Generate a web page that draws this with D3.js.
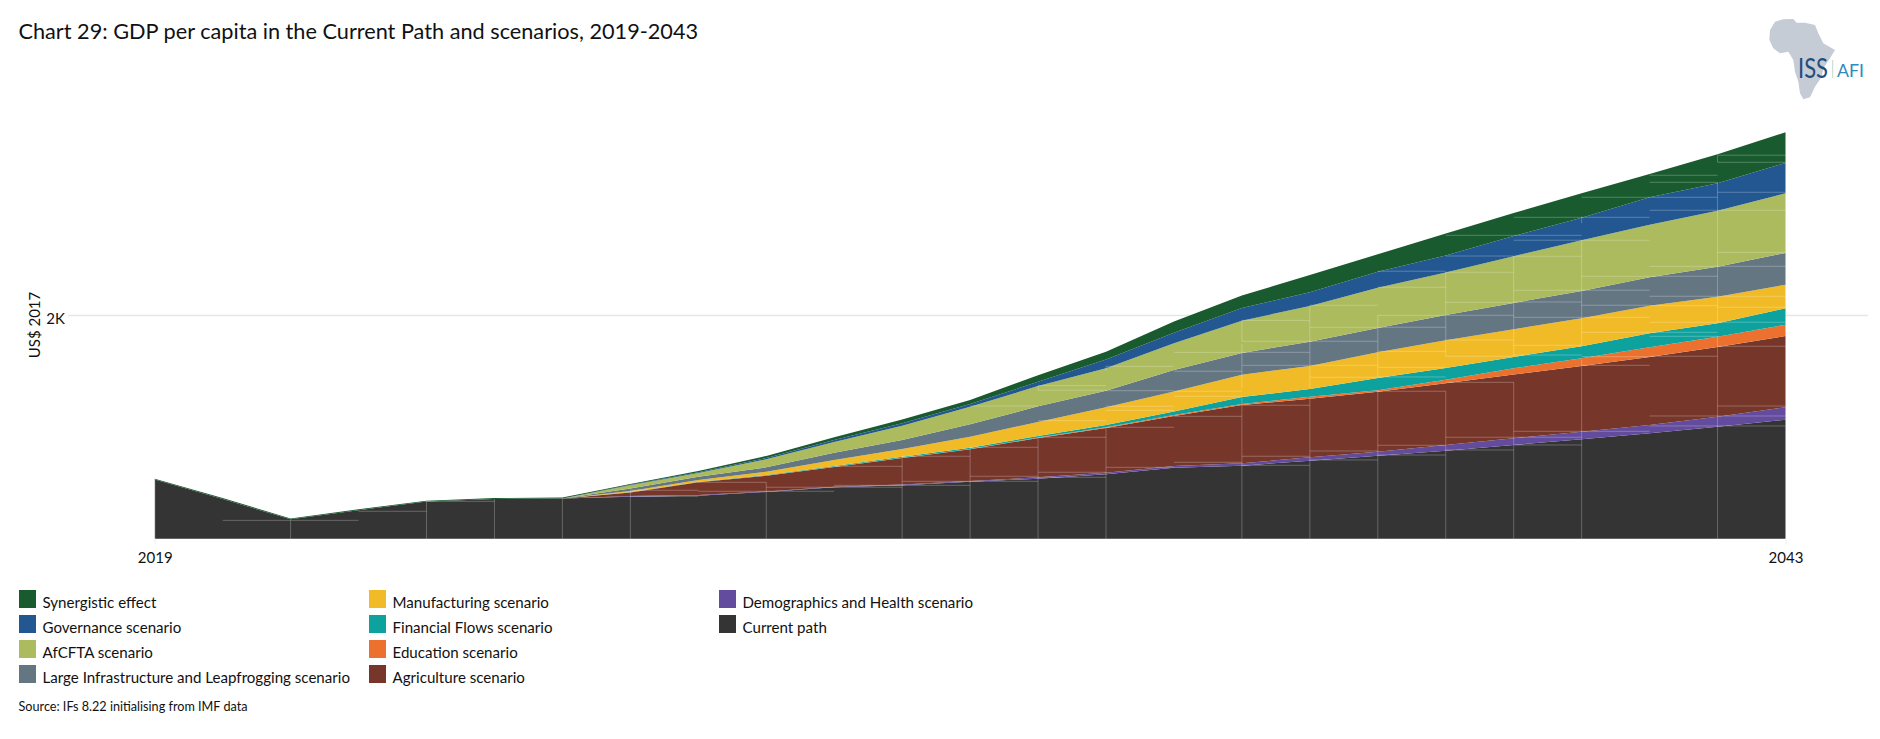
<!DOCTYPE html>
<html>
<head>
<meta charset="utf-8">
<script src="https://cdn.jsdelivr.net/npm/d3@7"></script>
<style>
  html, body { margin: 0; padding: 0; background: #fff; }
  text { font-family: Lato, "Open Sans", sans-serif; fill: #111; }
</style>
</head>
<body>
<div id="viz"></div>
<script>
let years = d3.range(2019, 2044)

// each scenario is the increment on top of the one below it, US$ 2017
let currentPath = [529, 355, 173, 255, 332, 356, 360, 375, 385, 418, 460, 477, 510, 536, 576, 635, 653, 697, 742, 787, 838, 889, 942, 1001, 1064]
let demographics = [0, 0, 0, 0, 0, 0, 0, 6, 5, 4, 4, 7, 6, 13, 14, 15, 21, 30, 36, 51, 60, 68, 74, 89, 111]
let agriculture = [0, 0, 0, 0, 0, 0, 0, 32, 114, 141, 177, 237, 283, 351, 400, 447, 521, 524, 536, 552, 569, 587, 608, 623, 637]
let education = [0, 0, 0, 0, 0, 0, 0, 2, 2, 2, 3, 3, 3, 4, 6, 9, 9, 18, 13, 30, 57, 69, 87, 92, 101]
let financialFlows = [0, 0, 0, 0, 0, 0, 0, 2, 2, 4, 6, 9, 12, 13, 21, 30, 63, 69, 110, 105, 101, 107, 125, 120, 147]
let manufacturing = [0, 0, 0, 0, 0, 0, 0, 9, 16, 30, 54, 69, 98, 127, 158, 179, 199, 206, 230, 250, 248, 250, 247, 238, 211]
let infrastructure = [0, 0, 0, 0, 0, 0, 0, 22, 30, 39, 65, 80, 111, 139, 148, 194, 194, 217, 217, 224, 235, 244, 254, 268, 283]
let afcfta = [0, 0, 0, 0, 0, 0, 0, 29, 33, 72, 96, 128, 157, 181, 200, 239, 289, 319, 360, 381, 418, 453, 470, 501, 534]
let governance = [0, 0, 0, 0, 0, 0, 0, 5, 6, 12, 18, 21, 24, 38, 80, 92, 114, 122, 143, 152, 179, 202, 245, 245, 271]
let synergistic = [8, 8, 8, 8, 8, 8, 8, 6, 12, 18, 24, 34, 36, 60, 68, 101, 110, 155, 156, 197, 206, 218, 208, 259, 274]

let seriesNames = ['Current path', 'Demographics and Health scenario', 'Agriculture scenario', 'Education scenario',
  'Financial Flows scenario', 'Manufacturing scenario', 'Large Infrastructure and Leapfrogging scenario',
  'AfCFTA scenario', 'Governance scenario', 'Synergistic effect']
let seriesValues = [currentPath, demographics, agriculture, education, financialFlows, manufacturing, infrastructure,
  afcfta, governance, synergistic]
let seriesColors = ['#343434', '#634b9e', '#76362a', '#ed712e', '#0da29e', '#f1bb27', '#657683', '#abbb5d', '#225792', '#195a2f']

// legend reads column by column, top of the stack first
let legendOrder = ['Synergistic effect', 'Governance scenario', 'AfCFTA scenario', 'Large Infrastructure and Leapfrogging scenario',
  'Manufacturing scenario', 'Financial Flows scenario', 'Education scenario', 'Agriculture scenario',
  'Demographics and Health scenario', 'Current path']

// faint level lines over the areas: first year of the span, then the levels
let levelStarts = [2020, 2022, 2023, 2026, 2027, 2028, 2029, 2030, 2031, 2032, 2033, 2034, 2035, 2036, 2037, 2038, 2039, 2040, 2041, 2042]
let levelValues = [
  [164],
  [245],
  [334],
  [379, 433],
  [424, 504],
  [424, 460],
  [460, 477, 647],
  [477, 513, 737],
  [513, 558, 817, 1186],
  [549, 594, 907, 1055, 1327, 1368],
  [638, 996, 1148, 1184, 1323, 1541],
  [683, 1094, 1273, 1318, 1497, 1666],
  [656, 737, 1193, 1550, 1666, 1765, 1952],
  [704, 784, 1443, 1550, 1765, 1890, 2087],
  [748, 835, 1318, 1446, 1532, 1675, 1890, 1997, 2248, 2391],
  [793, 907, 1398, 1631, 1776, 1997, 2113, 2382, 2527, 2712],
  [838, 907, 960, 1642, 1729, 1979, 2116, 2221, 2525, 2668, 2712, 2873],
  [960, 1550, 1627, 1845, 1979, 2087, 2221, 2346, 2668, 2873, 3052],
  [1008, 1097, 1631, 1809, 1845, 1935, 2083, 2167, 2346, 2435, 2936, 3052, 3186, 3249],
  [1008, 1097, 1186, 1720, 1935, 2069, 2167, 2435, 2560, 2936, 3097, 3365, 3428]
]
let levelEnds = { 2020: 2022 }

// faint uprights: year, from, to
let uprights = [
  [2021, 0, 164], [2023, 0, 334], [2024, 0, 355], [2025, 0, 360], [2026, 0, 433], [2028, 0, 504],
  [2030, 0, 737], [2031, 0, 817], [2032, 0, 907], [2032, 1327, 1368], [2033, 0, 996], [2033, 1497, 1541],
  [2035, 0, 1273], [2035, 1345, 1741], [2035, 1765, 1952], [2036, 0, 1250], [2036, 1345, 2087],
  [2037, 0, 1330], [2037, 1448, 1997], [2038, 0, 1318], [2038, 1631, 2382], [2039, 0, 1398], [2039, 1631, 2525],
  [2040, 0, 1600], [2040, 1720, 2668], [2040, 2820, 2880], [2042, 0, 1809], [2042, 1935, 3186], [2042, 3365, 3428]
]

let yTicks = [2000]
let xTicks = [2019, 2043]

let svg = d3.select('#viz')
  .append('svg')
  .attr('width', 1880)
  .attr('height', 739)
  .style('display', 'block')

let x = d3.scaleLinear().domain([2019, 2043]).range([154.7, 1785.5])
let y = d3.scaleLinear().domain([0, 3700]).range([538.7, 124.8])

svg.append('text')
  .attr('x', 18.5)
  .attr('y', 39)
  .style('font-size', '21.7px')
  .text('Chart 29: GDP per capita in the Current Path and scenarios, 2019-2043')

// y axis, the gridline runs past the plot on both sides
let yAxis = svg.append('g')
  .attr('transform', 'translate(68,0)')
  .call(d3.axisLeft(y).tickValues(yTicks).tickSize(0).tickPadding(3).tickFormat(d => (d / 1000) + 'K'))
yAxis.select('.domain').remove()
yAxis.selectAll('text').style('font-size', '15px').attr('dy', '1em').attr('y', -6)
yAxis.selectAll('.tick').append('line')
  .attr('x1', 0)
  .attr('x2', 1800)
  .attr('stroke', '#e6e6e6')
  .attr('stroke-width', 1.5)

svg.append('text')
  .attr('transform', 'translate(40,325) rotate(-90)')
  .attr('text-anchor', 'middle')
  .style('font-size', '15px')
  .text('US$ 2017')

// stacked areas
let table = years.map((year, i) => {
  let row = { year: year }
  seriesNames.forEach((name, s) => { row[name] = seriesValues[s][i] })
  return row
})
let stacked = d3.stack().keys(seriesNames)(table)
let area = d3.area()
  .x(d => x(d.data.year))
  .y0(d => y(d[0]))
  .y1(d => y(d[1]))

svg.append('g')
  .selectAll('path')
  .data(stacked)
  .join('path')
  .attr('d', area)
  .attr('fill', (d, i) => seriesColors[i])

// level lines and uprights
let overlay = svg.append('g')
  .attr('stroke', '#fff')
  .attr('stroke-opacity', 0.25)
  .attr('stroke-width', 1)
levelStarts.forEach((start, i) => {
  let end = levelEnds[start] || start + 1
  levelValues[i].forEach((v) => {
    overlay.append('line')
      .attr('x1', x(start))
      .attr('x2', x(end))
      .attr('y1', y(v))
      .attr('y2', y(v))
  })
})
uprights.forEach((u) => {
  overlay.append('line')
    .attr('x1', x(u[0]))
    .attr('x2', x(u[0]))
    .attr('y1', y(u[1]))
    .attr('y2', y(u[2]))
})
svg.append('line')
  .attr('x1', x(2019))
  .attr('x2', x(2019))
  .attr('y1', y(0))
  .attr('y2', y(currentPath[0]))
  .attr('stroke', '#fff')
  .attr('stroke-opacity', 0.5)

// x axis
let xAxis = svg.append('g')
  .attr('transform', 'translate(0,' + y(0) + ')')
  .call(d3.axisBottom(x).tickValues(xTicks).tickSize(6).tickPadding(8).tickFormat(d3.format('d')))
xAxis.select('.domain').remove()
xAxis.selectAll('line').attr('stroke', '#eeeeee')
xAxis.selectAll('text').style('font-size', '15px')

// legend
let legendColumns = [19, 369, 719]
let legendRows = [590, 615, 640, 665]
legendOrder.forEach((name, i) => {
  let col = Math.floor(i / 4)
  let row = i % 4
  let g = svg.append('g')
    .attr('transform', 'translate(' + legendColumns[col] + ',' + legendRows[row] + ')')
  g.append('rect')
    .attr('width', 17)
    .attr('height', 18)
    .attr('fill', seriesColors[seriesNames.indexOf(name)])
  g.append('text')
    .attr('x', 23.5)
    .attr('y', 18)
    .style('font-size', '15.1px')
    .text(name)
})

svg.append('text')
  .attr('x', 18.5)
  .attr('y', 711)
  .style('font-size', '12.65px')
  .text('Source: IFs 8.22 initialising from IMF data')

// ISS AFI logo
let africa = [[30, 60], [45, 35], [70, 28], [100, 27], [110, 38], [135, 38], [165, 45], [175, 70], [190, 100], [225, 120],
  [210, 145], [190, 175], [185, 200], [165, 230], [150, 262], [130, 268], [120, 250], [115, 215], [105, 185], [100, 150],
  [85, 125], [60, 130], [40, 115], [28, 90]]
svg.append('polygon')
  .attr('points', africa.map(p => (1760 + p[0] / 3) + ',' + (10 + p[1] / 3)).join(' '))
  .attr('fill', '#c5ccd6')
svg.append('text')
  .attr('x', 1798)
  .attr('y', 78)
  .attr('textLength', 30)
  .attr('lengthAdjust', 'spacingAndGlyphs')
  .style('font-size', '26px')
  .style('fill', '#1f4e7d')
  .text('ISS')
svg.append('line')
  .attr('x1', 1832.7)
  .attr('x2', 1832.7)
  .attr('y1', 60)
  .attr('y2', 78)
  .attr('stroke', '#c5d8c5')
svg.append('text')
  .attr('x', 1837)
  .attr('y', 76.5)
  .attr('textLength', 27)
  .attr('lengthAdjust', 'spacingAndGlyphs')
  .style('font-size', '18px')
  .style('fill', '#2e8bc0')
  .text('AFI')
</script>
</body>
</html>
